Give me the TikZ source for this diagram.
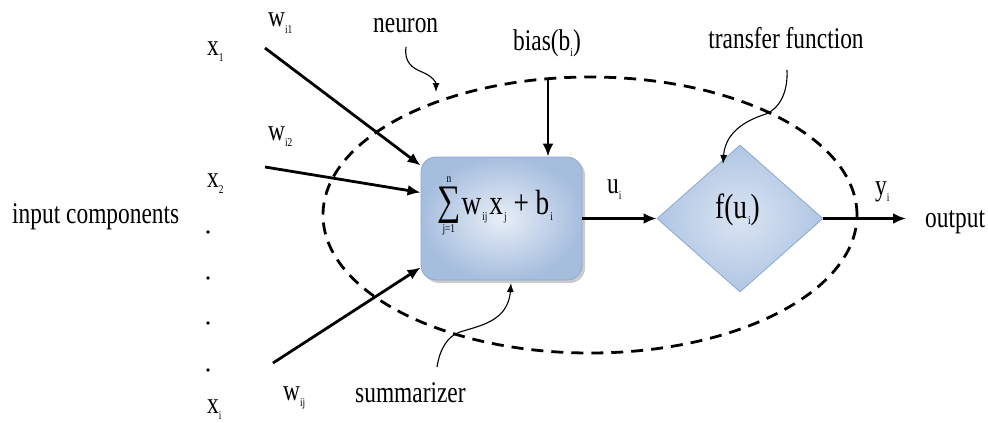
\documentclass[tikz,border=0pt]{standalone}
\usepackage{fontspec}
\setmainfont{Liberation Serif}[FakeStretch=0.78]
\usetikzlibrary{arrows.meta,shapes.geometric,shadows}

\definecolor{boxedge}{RGB}{166,190,222}
\definecolor{boxmid}{RGB}{232,238,247}
\definecolor{boxline}{RGB}{140,168,208}
\definecolor{dmdedge}{RGB}{176,198,227}
\definecolor{dmdmid}{RGB}{218,228,242}
\definecolor{shadowgray}{RGB}{190,190,190}

\newcommand\lsub[1]{\raisebox{-6pt}{\fontsize{12}{12}\selectfont #1}}
\newcommand\lsmall[1]{\hbox{\fontsize{12}{12}\selectfont #1}}

\begin{document}
\begin{tikzpicture}[x=1pt,y=-1pt,
  lbl/.style={font=\fontsize{30}{32}\selectfont, inner sep=0pt, anchor=base west},
  biglbl/.style={font=\fontsize{35}{36}\selectfont, inner sep=0pt, anchor=base west},
  wire/.style={line width=2.8pt, -{Latex[length=13pt,width=11pt]}},
  curly/.style={line width=1.1pt, -{Latex[length=9pt,width=7pt]}},
  dotmark/.style={circle, fill=black, inner sep=0pt, minimum size=3.6pt},
]
\useasboundingbox (0,0) rectangle (988,423);

% neuron boundary
\node[ellipse, draw, dashed, line width=2.8pt, dash pattern=on 12pt off 8pt,
      inner sep=0pt, minimum width=534pt, minimum height=276pt] (cell) at (590,215) {};

% blocks
\node[draw=boxline, line width=0.8pt, inner color=boxmid, outer color=boxedge,
      rounded corners=15pt, minimum width=161pt, minimum height=123pt,
      drop shadow={shadow xshift=3pt, shadow yshift=-3pt, fill=shadowgray, opacity=0.8}]
      (sum) at (501.5,218.5) {};
\node[draw=boxline, line width=0.8pt, inner color=dmdmid, outer color=dmdedge,
      diamond, inner sep=0pt, minimum width=166pt, minimum height=147pt]
      (fn) at (740,218.5) {};

% formula and function text
\node[biglbl] (formula) at (437,214)
  {$\mathop{\hbox{\fontsize{42}{42}\selectfont ∑}}\limits^{\raisebox{2pt}{\lsmall{n}}}_{\lsmall{j=1}}$\hspace{1pt}w\hspace{1pt}\lsub{ij}\hspace{2pt}x\hspace{1pt}\lsub{j} + b\hspace{1pt}\lsub{i}};
\node[biglbl] (fnlabel) at (715,218) {f(u\hspace{1pt}\lsub{i})};

% labels
\node[lbl] (x1) at (207,55) {x\lsub{1}};
\node[lbl] (x2) at (207,187) {x\lsub{2}};
\node[lbl] (xi) at (207,413) {x\lsub{i}};
\node[lbl] (wi1) at (268,27) {w\lsub{i1}};
\node[lbl] (wi2) at (268,140) {w\lsub{i2}};
\node[lbl] (wij) at (283,400) {w\lsub{ij}};
\node[lbl] (neuron) at (373,32) {neuron};
\node[lbl, anchor=base] (bias) at (547,50) {bias(b\lsub{i})};
\node[lbl, anchor=base] (transfer) at (786,48) {transfer function};
\node[lbl] (summ) at (355,402) {summarizer};
\node[lbl] (inputs) at (12,223) {input components};
\node[lbl] (ui) at (607,193) {u\lsub{i}};
\node[lbl] (yi) at (875,195) {y\lsub{i}};
\node[lbl] (out) at (925,227) {output};

% dots
\node[dotmark] (d1) at (208,232) {};
\node[dotmark] (d2) at (208,278) {};
\node[dotmark] (d3) at (208,323) {};
\node[dotmark] (d4) at (208,370) {};

% connector end points
\coordinate (s1) at (265,48);
\coordinate (s2) at (265,167);
\coordinate (s3) at (273,363);
\coordinate (sb) at (548,80);
\coordinate (oend) at (906,218.5);

% input arrows
\draw[wire] (s1) -- ([yshift=53pt]sum.west);
\draw[wire] (s2) -- ([yshift=26pt]sum.west);
\draw[wire] (s3) -- ([yshift=-49pt]sum.west);
\draw[wire] (sb) -- ([xshift=46.5pt]sum.north);
\draw[wire] (sum.east) -- (fn.west);
\draw[wire] (fn.east) -- (oend);

% pointer arrows
\coordinate (n0) at (406,47);
\coordinate (n1) at (436,92);
\draw[curly] (n0) .. controls (404,62) and (412,68) .. (422,72)
             .. controls (432,76) and (436,82) .. (n1);
\coordinate (t0) at (787,70);
\coordinate (t1) at (723,164);
\draw[curly] (t0) .. controls (788,92) and (780,108) .. (766,114)
             .. controls (740,122) and (725,136) .. (t1);
\coordinate (u0) at (437,367);
\coordinate (u1) at (511,283);
\draw[curly] (u0) .. controls (440,348) and (448,336) .. (460,332)
             .. controls (478,326) and (508,322) .. (u1);
\end{tikzpicture}
\end{document}
